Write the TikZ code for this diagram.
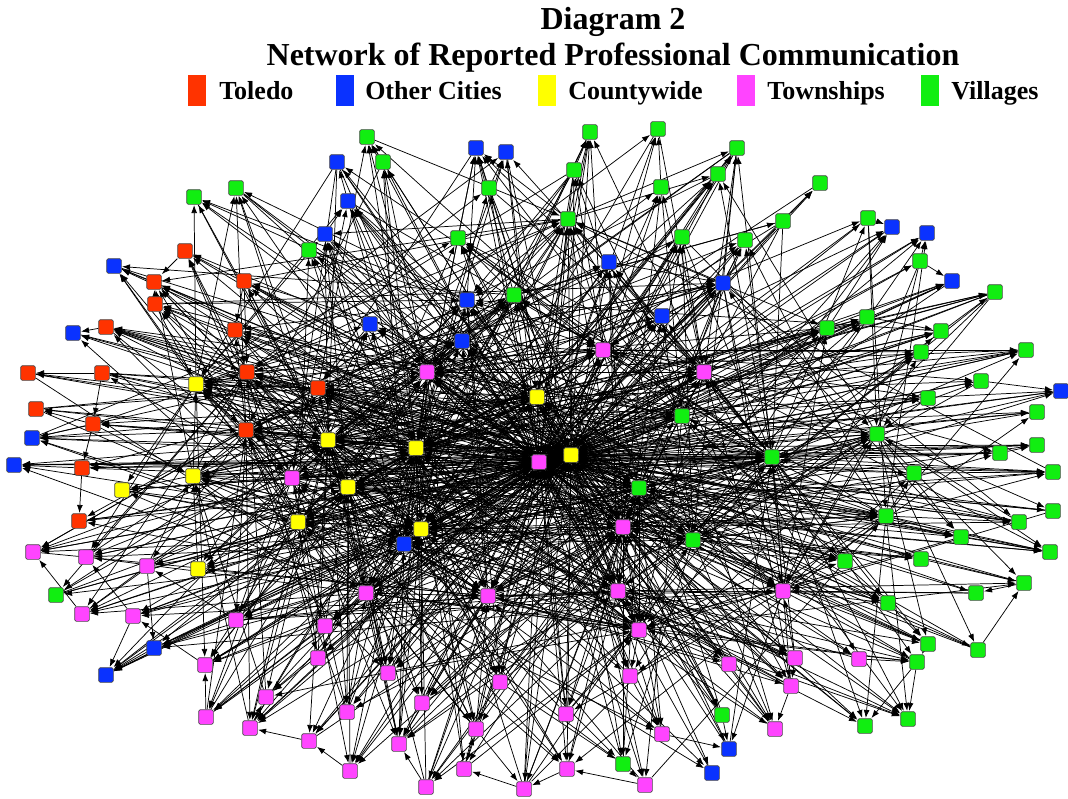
\documentclass[tikz,border=0pt]{standalone}
\usepackage{fontspec}
\setmainfont{Liberation Serif}
\usetikzlibrary{arrows.meta,backgrounds}
\definecolor{tol}{HTML}{FF3300}
\definecolor{oci}{HTML}{0A32FF}
\definecolor{cty}{HTML}{FFFF00}
\definecolor{twp}{HTML}{FF44FF}
\definecolor{vil}{HTML}{11EE11}
\begin{document}
\begin{tikzpicture}[x=0.75pt,y=-0.75pt,
  vtx/.style={rectangle,minimum size=11pt,inner sep=0pt,rounded corners=1.2pt,draw=black!70,line width=0.5pt},
  link/.style={draw=black,line width=0.55pt,-{Latex[length=6pt,width=4.4pt]},shorten >=0.3pt},
  legbox/.style={rectangle,minimum width=13pt,minimum height=23pt,inner sep=0pt,anchor=north west},
  legtext/.style={anchor=base west,inner sep=0pt,font=\fontsize{19.5}{22}\selectfont\bfseries},
  ttl/.style={anchor=base,inner sep=0pt,font=\fontsize{24}{28}\selectfont\bfseries}]
\useasboundingbox (0,0) rectangle (1068,799);
% title and legend
\node[ttl] (t1) at (613,30) {Diagram 2};
\node[ttl] (t2) at (613,66) {Network of Reported Professional Communication};
\node[legbox,fill=tol] (l1) at (188,75) {};
\node[legtext] (lt1) at (219,100) {Toledo};
\node[legbox,fill=oci] (l2) at (336,75) {};
\node[legtext] (lt2) at (365,100) {Other Cities};
\node[legbox,fill=cty] (l3) at (538,75) {};
\node[legtext] (lt3) at (568,100) {Countywide};
\node[legbox,fill=twp] (l4) at (737,75) {};
\node[legtext] (lt4) at (767,100) {Townships};
\node[legbox,fill=vil] (l5) at (921,75) {};
\node[legtext] (lt5) at (951,100) {Villages};
% vertices
\foreach \i/\x/\y/\c in {
1/185/251/tol,2/154/282/tol,3/244/281/tol,4/155/304/tol,5/106/327/tol,6/235/330/tol,7/28/373/tol,8/102/373/tol,9/247/372/tol,10/318/388/tol,11/36/409/tol,12/93/424/tol,13/246/430/tol,14/82/468/tol,15/79/521/tol,
16/337/162/oci,17/476/148/oci,18/506/152/oci,19/348/201/oci,20/325/234/oci,21/114/266/oci,22/609/262/oci,23/723/283/oci,24/892/227/oci,25/927/233/oci,26/952/281/oci,27/467/300/oci,28/370/324/oci,29/662/316/oci,30/73/333/oci,31/462/341/oci,32/1061/391/oci,33/32/438/oci,34/14/465/oci,35/404/544/oci,36/154/648/oci,37/106/675/oci,38/729/749/oci,39/712/773/oci,
40/196/384/cty,41/537/397/cty,42/328/440/cty,43/416/448/cty,44/571/455/cty,45/193/476/cty,46/348/487/cty,47/122/490/cty,48/298/522/cty,49/421/529/cty,50/198/569/cty,
51/603/350/twp,52/427/372/twp,53/704/372/twp,54/539/462/twp,55/292/478/twp,56/623/527/twp,57/33/552/twp,58/86/557/twp,59/147/566/twp,60/366/593/twp,61/488/596/twp,62/618/591/twp,63/783/591/twp,64/82/614/twp,65/133/616/twp,66/236/620/twp,67/325/626/twp,68/639/630/twp,69/318/658/twp,70/205/665/twp,71/388/673/twp,72/500/682/twp,73/630/676/twp,74/729/664/twp,75/795/658/twp,76/859/659/twp,77/266/697/twp,78/347/712/twp,79/422/703/twp,80/206/717/twp,81/250/728/twp,82/566/714/twp,83/476/729/twp,84/662/734/twp,85/791/686/twp,86/775/729/twp,87/309/741/twp,88/399/744/twp,89/350/771/twp,90/464/769/twp,91/567/769/twp,92/426/787/twp,93/524/789/twp,94/645/785/twp,
95/367/137/vil,96/383/162/vil,97/590/132/vil,98/658/129/vil,99/574/170/vil,100/489/188/vil,101/737/148/vil,102/718/174/vil,103/661/187/vil,104/820/183/vil,105/194/197/vil,106/236/188/vil,107/568/219/vil,108/783/221/vil,109/868/218/vil,110/309/250/vil,111/458/238/vil,112/682/237/vil,113/745/240/vil,114/920/261/vil,115/995/292/vil,116/514/295/vil,117/867/317/vil,118/827/328/vil,119/941/331/vil,120/921/352/vil,121/1026/350/vil,122/981/381/vil,123/928/398/vil,124/682/416/vil,125/1037/412/vil,126/877/434/vil,127/1037/445/vil,128/1000/453/vil,129/772/457/vil,130/914/473/vil,131/1053/472/vil,132/639/488/vil,133/886/516/vil,134/1053/511/vil,135/1019/522/vil,136/693/540/vil,137/961/537/vil,138/1050/552/vil,139/921/559/vil,140/845/561/vil,141/1024/583/vil,142/56/595/vil,143/888/603/vil,144/976/593/vil,145/928/644/vil,146/978/650/vil,147/917/662/vil,148/722/715/vil,149/865/726/vil,150/908/719/vil,151/623/764/vil}
{
  \node[vtx,fill=\c] (n\i) at (\x,\y) {};
  \expandafter\xdef\csname px\i\endcsname{\x}
  \expandafter\xdef\csname py\i\endcsname{\y}
}
\begin{scope}[on background layer]
\fill[white] (0,0) rectangle (1068,799);
\pgfmathsetseed{4711}
% the two central hubs reach nearly every vertex
\foreach \h in {54,44}{
  \foreach \j in {1,...,151}{
    \ifnum\j=\h\relax\else
      \pgfmathtruncatemacro\dir{rnd<0.7?1:0}
      \ifnum\dir=1 \draw[link] (n\h) -- (n\j); \else \draw[link] (n\j) -- (n\h); \fi
    \fi
  }
}
% secondary hubs
\foreach \h/\P in {43/0.7,49/0.66,56/0.6,41/0.44,52/0.4,129/0.44,42/0.4,46/0.4,40/0.34,61/0.36,62/0.36,60/0.3,10/0.32,9/0.28,51/0.28,53/0.3,116/0.22,107/0.22,132/0.3,45/0.24,48/0.24,55/0.24,124/0.24,136/0.22,13/0.24,68/0.22,63/0.2,35/0.2,31/0.16,27/0.16,23/0.16,126/0.16,133/0.16}{
  \foreach \j in {1,...,151}{
    \ifnum\j=\h\relax\else
      \pgfmathsetmacro\dd{veclen(\csname px\h\endcsname-\csname px\j\endcsname,\csname py\h\endcsname-\csname py\j\endcsname)}
      \pgfmathtruncatemacro\ok{(rnd<\P*((\dd<330)?1:0.3))?1:0}
      \ifnum\ok=1
        \pgfmathtruncatemacro\dir{rnd<0.72?1:0}
        \ifnum\dir=1 \draw[link] (n\h) -- (n\j); \else \draw[link] (n\j) -- (n\h); \fi
      \fi
    \fi
  }
}
% local links at the rim
\foreach \a/\b in {2/21,4/2,5/30,8/7,8/12,12/11,12/33,14/34,14/15,12/14,1/2,3/6,6/9,36/37,65/37,59/36,117/119,118/117,130/131,133/135,139/141,143/145,147/149,147/150,146/141,145/147,63/143,74/86,75/85,85/86,148/38,84/38,73/84,68/73,23/113,102/101,108/104,99/97,103/98,96/95,110/20,20/19,19/16,100/17,100/18,111/17,29/14,114/26,109/24,122/32,128/127,137/138,141/144,76/147,64/57,65/58,66/59,70/65,80/70,81/77,87/81,89/87,92/88,90/83,93/90,91/93,94/91,151/94}{
  \draw[link] (n\a) -- (n\b);
}
\end{scope}
\end{tikzpicture}
\end{document}
